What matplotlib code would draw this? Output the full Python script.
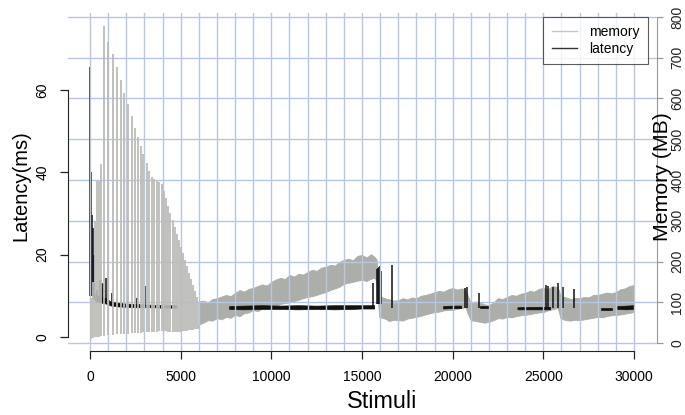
import numpy as np
import matplotlib
matplotlib.use("Agg")
import matplotlib.pyplot as plt
from matplotlib.lines import Line2D

plt.rcParams['font.family'] = ['Liberation Sans', 'DejaVu Sans']

# memory: early GC sawtooth spikes (stimulus, MB)
mem_spike_x = [80, 170, 250, 370, 500, 625, 772, 1010, 1250, 1470, 1690, 1890, 2110,
               2300, 2480, 2630, 2790, 2940, 3130, 3250, 3400, 3550, 3700, 3830,
               3950, 4070, 4190, 4310, 4430, 4550, 4670, 4790, 4900, 5010, 5120,
               5230, 5340, 5450, 5560, 5670, 5780, 5880]
mem_spike_hi = [110, 150, 300, 397, 397, 440, 779, 739, 709, 677, 645, 614, 586,
                557, 527, 506, 483, 463, 441, 422, 407, 402, 398, 396,
                390, 372, 355, 337, 320, 302, 285, 268, 252, 236, 220,
                204, 188, 172, 157, 142, 127, 113]
mem_spike_lo = [10, 12, 14, 15, 15, 16, 18, 20, 20, 21, 22, 22, 23,
                24, 24, 25, 25, 26, 26, 27, 27, 28, 28, 29,
                29, 29, 29, 28, 28, 28, 28, 28, 28, 28, 29,
                30, 30, 31, 32, 33, 34, 35]

# memory: dense band afterwards (stimulus, low MB, high MB)
mem_x = [5975, 6000, 6250, 6500, 6750,
         7000, 7250, 7500, 7750, 8000, 8250, 8500, 8750, 9000, 9250, 9500, 9750,
         10000, 10250, 10500, 10750, 11000, 11250, 11500, 11750, 12000, 12250, 12500,
         12750, 13000, 13250, 13500, 13750, 14000, 14250, 14500, 14750, 15000, 15250,
         15500, 15700, 15800, 15950, 16250, 16500, 16750, 17000, 17250, 17500, 17750,
         18000, 18250, 18500, 18750, 19000, 19250, 19500, 19750, 20000, 20250, 20500,
         20700, 20850, 21000, 21250, 21500, 21750, 22000, 22250, 22500, 22750, 23000,
         23250, 23500, 23750, 24000, 24250, 24500, 24750, 25000, 25250, 25500, 25800,
         25950, 26250, 26500, 26750, 27000, 27250, 27500, 27750, 28000, 28250, 28500,
         28750, 29000, 29250, 29500, 29750, 30000]
mem_lo = [37, 45, 50, 56, 55,
          61, 58, 64, 62, 69, 66, 73, 75, 81, 78, 85, 88,
          93, 90, 96, 98, 100, 103, 106, 110, 113, 115, 118,
          122, 125, 130, 134, 138, 145, 148, 150, 153, 155, 152,
          158, 160, 150, 64, 60, 54, 57, 56, 55, 60, 62,
          64, 67, 70, 73, 76, 77, 80, 81, 81, 84, 86,
          88, 70, 56, 54, 52, 50, 52, 56, 61, 60, 64,
          63, 66, 68, 69, 71, 73, 75, 76, 80, 83, 86,
          60, 56, 55, 57, 56, 58, 60, 62, 64, 63, 66,
          68, 69, 70, 72, 74, 76]
mem_hi = [101, 103, 104, 100, 108,
          110, 114, 118, 115, 123, 130, 126, 133, 135, 140, 144, 141,
          150, 156, 160, 157, 167, 163, 170, 168, 174, 180, 177,
          185, 187, 192, 190, 199, 204, 207, 203, 214, 216, 210,
          218, 211, 205, 115, 110, 107, 104, 105, 110, 107, 112,
          110, 116, 118, 121, 125, 128, 126, 132, 135, 131, 134,
          130, 115, 98, 102, 100, 95, 93, 100, 110, 108, 113,
          118, 116, 121, 123, 128, 126, 133, 135, 132, 140, 137,
          115, 112, 108, 111, 110, 113, 112, 118, 118, 121, 124,
          122, 125, 132, 134, 140, 142]

# latency: baseline band where visible (stimulus, low ms, high ms)
lat_x = [300, 600, 900, 1200, 1600, 2000, 2500, 3000, 3500, 4000, 4500, 4800, 4900,
         7600, 7700, 8500, 9500, 10500, 11500, 12500, 13500, 14500, 15000, 15700, 15800,
         19400, 19500, 20000, 20500, 20600,
         21400, 21500, 22000, 22100,
         23500, 23600, 24500, 25400, 25500,
         28100, 28200, 28800, 28900,
         29000, 29100, 29600, 30000]
lat_lo = [8.8, 8.3, 8.0, 7.5, 7.3, 7.2, 7.1, 7.1, 7.1, 7.0, 7.0, 7.0, np.nan,
          np.nan, 6.7, 6.6, 6.7, 6.7, 6.6, 6.7, 6.6, 6.7, 6.8, 6.8, np.nan,
          np.nan, 6.8, 6.9, 6.9, np.nan,
          np.nan, 7.0, 7.0, np.nan,
          np.nan, 6.6, 6.6, 6.6, np.nan,
          np.nan, 6.5, 6.5, np.nan,
          np.nan, 6.7, 6.6, 6.7]
lat_hi = [10.2, 9.7, 9.3, 8.4, 8.2, 8.0, 7.9, 7.8, 7.7, 7.7, 7.6, 7.6, np.nan,
          np.nan, 7.4, 7.5, 7.6, 7.5, 7.6, 7.5, 7.6, 7.6, 7.6, 7.6, np.nan,
          np.nan, 7.4, 7.5, 7.5, np.nan,
          np.nan, 7.5, 7.5, np.nan,
          np.nan, 7.1, 7.2, 7.2, np.nan,
          np.nan, 7.0, 7.0, np.nan,
          np.nan, 7.4, 7.5, 7.6]

# latency spikes (stimulus, ms)
lat_spike_x = [0, 40, 90, 150, 220, 370, 550, 645, 720, 880, 1000, 1200, 2020, 2570,
               3030, 15600, 15850, 15900, 15950, 16000, 16050, 16640, 20700, 20800,
               21450, 25150, 25270, 25530, 25800, 26080, 26700]
lat_spike_hi = [65.6, 40, 29.6, 26.5, 20, 11.4, 13.8, 13, 12.9, 14.3, 14.6, 10.7, 9.0,
                9.5, 12.4, 13, 16.5, 16.8, 17.0, 17.2, 16.0, 17.5, 11.9, 12.1,
                10.7, 12.6, 12.4, 12.1, 13.1, 12.1, 11.7]
lat_spike_lo = [10, 10, 10, 10, 9, 8.5, 8.5, 8.5, 8.5, 8.3, 8.2, 8, 7.5, 7.5,
                7.5, 7, 8, 8, 8, 8, 8, 7, 7, 7,
                7, 7, 7, 7, 7, 7, 7]

x_ticks = [0, 5000, 10000, 15000, 20000, 25000, 30000]
x_grid = list(range(0, 30001, 1000))
lat_ticks = [0, 20, 40, 60]
mem_ticks = [0, 100, 200, 300, 400, 500, 600, 700, 800]

mem_col = '#acaea9'
spike_col = '#bbbcb8'
lat_col = '#111111'
grid_col = '#b7c7de'

fig = plt.figure(figsize=(6.85, 4.15), dpi=100)
ax = fig.add_axes([68 / 685, 64 / 415, 589 / 685, 338 / 415])
axm = ax.twinx()
axm.set_zorder(ax.get_zorder() - 1)
axm.patch.set_visible(True)
axm.patch.set_facecolor('white')
ax.patch.set_visible(False)

# memory band (under everything else)
axm.fill_between(mem_x, mem_lo, mem_hi, color=mem_col, lw=0.6, zorder=1)

# latency
ax.fill_between(lat_x, lat_lo, lat_hi, color=lat_col, lw=0.5, zorder=2)
ax.vlines(lat_spike_x, lat_spike_lo, lat_spike_hi, color=lat_col, lw=1.1, zorder=2)

# memory spikes drawn above latency
ax.vlines(mem_spike_x, mem_spike_lo, mem_spike_hi, color=spike_col, lw=1.3,
          transform=axm.transData, zorder=3)

ax.set_xlim(-1213, 31268)
ax.set_ylim(-3.40, 78.70)
axm.set_ylim(-19.6, 809.8)

# grid
ax.set_xticks(x_ticks)
ax.set_xticks(x_grid, minor=True)
ax.tick_params(axis='x', which='minor', length=0)
ax.set_axisbelow(False)
ax.grid(axis='x', which='both', color=grid_col, lw=1.0)
axm.set_axisbelow(False)
axm.set_yticks(mem_ticks)
axm.grid(axis='y', color=grid_col, lw=1.0)

# spines
for s in ['top', 'right']:
    ax.spines[s].set_visible(False)
for s in ['top', 'left', 'bottom']:
    axm.spines[s].set_visible(False)
ax.spines['left'].set_bounds(0, 60)
ax.spines['bottom'].set_bounds(0, 30000)
ax.spines['left'].set_color('#222222')
ax.spines['bottom'].set_color('#222222')
axm.spines['right'].set_bounds(0, 800)
axm.spines['right'].set_color('#9a9a9a')

ax.set_yticks(lat_ticks)
ax.tick_params(axis='both', which='major', length=5.5, width=0.9, color='#222222',
               labelsize=10, pad=8)
axm.tick_params(axis='y', length=4.5, width=0.9, color='#9a9a9a', labelsize=10,
                pad=5, labelcolor='#222222')
for lbl in ax.get_yticklabels():
    lbl.set_rotation(90)
    lbl.set_va('center')
for lbl in axm.get_yticklabels():
    lbl.set_rotation(90)
    lbl.set_va('center')

fig.text(21 / 685, 1 - 186 / 415, 'Latency(ms)', rotation=90, ha='center',
         va='center', fontsize=14.5)
fig.text(662 / 685, 1 - 177 / 415, 'Memory (MB)', rotation=90, ha='center',
         va='center', fontsize=15.3)
fig.text(382 / 685, 1 - 401 / 415, 'Stimuli', ha='center', va='center', fontsize=16.8)

handles = [Line2D([], [], color='#c4c4c4', lw=1.0),
           Line2D([], [], color='#333333', lw=1.0)]
leg = fig.legend(handles, ['memory', 'latency'], loc='upper right',
                 bbox_to_anchor=(648 / 685, 1 - 17 / 415), fontsize=10,
                 frameon=True, fancybox=False, edgecolor='#333333',
                 borderpad=0.6, labelspacing=0.2, handlelength=1.8,
                 handletextpad=0.9, borderaxespad=0)
leg.get_frame().set_linewidth(0.8)

fig.savefig('out.png', dpi=100)
